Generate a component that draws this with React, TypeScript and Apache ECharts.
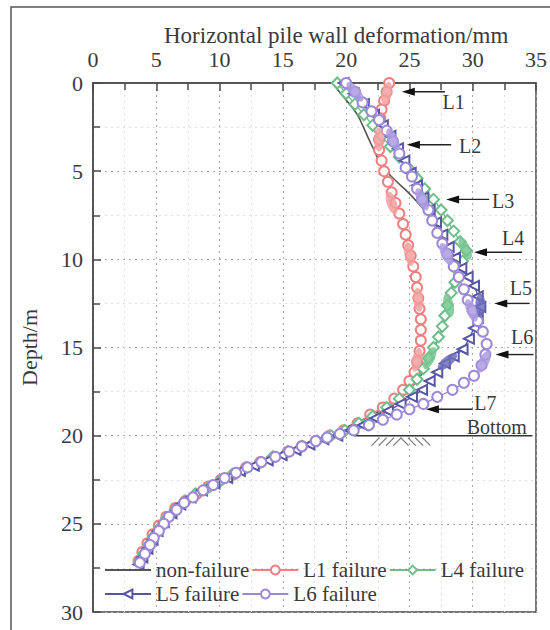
import React, { useEffect, useRef } from "react";
import * as echarts from "echarts";

const FONT = "'Liberation Serif', 'Times New Roman', serif";
const INK = "#3a3a3a";

// [deformation (mm), depth (m)]
const nonFailure: [number, number][] = [
  [18.9, 0], [19.8, 0.8], [20.8, 1.7], [21.3, 2.4], [21.8, 3.2], [22.2, 3.8], [22.6, 4.4],
  [23.2, 5.0], [24.0, 5.6], [24.9, 6.2], [25.8, 6.9], [26.6, 7.6], [27.3, 8.3], [27.9, 9.0],
  [28.4, 9.7], [28.6, 10.4], [28.5, 11.1], [28.3, 11.8], [28.1, 12.5], [27.9, 13.2],
  [27.6, 13.9], [27.2, 14.6], [26.8, 15.3], [26.3, 16.0], [25.8, 16.7], [25.1, 17.3],
  [24.2, 17.9], [23.1, 18.4], [21.9, 18.9], [20.7, 19.3], [19.5, 19.7], [18.4, 20.1],
  [16.9, 20.5], [15.4, 20.9], [13.9, 21.3], [12.4, 21.7], [11.0, 22.1], [9.7, 22.6],
  [8.5, 23.1], [7.4, 23.6], [6.4, 24.1], [5.6, 24.7], [4.9, 25.4], [4.3, 26.1],
  [3.8, 26.8], [3.6, 27.2],
];

const l1Failure: [number, number][] = [
  [23.4, 0], [23.2, 0.5], [23.0, 1.0], [22.8, 1.5], [22.7, 2.0], [22.6, 2.6], [22.6, 3.2],
  [22.6, 3.8], [22.8, 4.4], [23.0, 5.0], [23.3, 5.6], [23.6, 6.2], [23.9, 6.8], [24.2, 7.4],
  [24.5, 8.0], [24.7, 8.6], [24.9, 9.2], [25.1, 9.8], [25.3, 10.4], [25.5, 11.0],
  [25.6, 11.6], [25.7, 12.2], [25.8, 12.8], [25.9, 13.4], [25.9, 14.0], [25.9, 14.6],
  [25.8, 15.2], [25.6, 15.8], [25.4, 16.4], [25.0, 16.9], [24.5, 17.4], [23.8, 17.9],
  [22.9, 18.4], [21.9, 18.8], [20.9, 19.3], [19.8, 19.7], [18.7, 20.0], [17.6, 20.3],
  [16.5, 20.6], [15.4, 20.9], [14.3, 21.2], [13.2, 21.5], [12.1, 21.8], [11.1, 22.2],
  [10.1, 22.5], [9.1, 22.9], [8.2, 23.3], [7.3, 23.7], [6.5, 24.1], [5.8, 24.6],
  [5.2, 25.1], [4.7, 25.6], [4.3, 26.1], [3.9, 26.6], [3.6, 27.1],
];

const l4Failure: [number, number][] = [
  [19.3, 0], [20.0, 0.6], [20.7, 1.2], [21.4, 1.8], [22.1, 2.4], [22.8, 3.0], [23.5, 3.6],
  [24.2, 4.2], [24.9, 4.8], [25.6, 5.4], [26.2, 6.0], [26.9, 6.6], [27.5, 7.2], [28.0, 7.8],
  [28.5, 8.4], [29.0, 9.0], [29.5, 9.5], [29.2, 10.1], [28.9, 10.7], [28.6, 11.3],
  [28.3, 11.9], [28.0, 12.6], [27.8, 13.2], [27.6, 13.8], [27.3, 14.4], [26.9, 15.0],
  [26.5, 15.6], [26.1, 16.2], [25.6, 16.8], [25.0, 17.4], [24.2, 17.9], [23.2, 18.4],
  [22.1, 18.9], [21.0, 19.3], [19.9, 19.7], [18.8, 20.0], [17.7, 20.3], [16.5, 20.6],
  [15.4, 20.9], [14.2, 21.2], [13.1, 21.6], [12.0, 21.9], [11.0, 22.2], [10.0, 22.6],
  [9.0, 23.0], [8.1, 23.3], [7.3, 23.7], [6.5, 24.2], [5.8, 24.7], [5.3, 25.2],
  [4.8, 25.7], [4.4, 26.2], [4.0, 26.7], [3.7, 27.1],
];

const l5Failure: [number, number][] = [
  [19.8, 0], [20.6, 0.6], [21.4, 1.2], [22.2, 1.8], [22.9, 2.4], [23.5, 3.0], [24.1, 3.7],
  [24.6, 4.4], [25.1, 5.1], [25.6, 5.8], [26.1, 6.5], [26.6, 7.2], [27.1, 7.9], [27.6, 8.6],
  [28.1, 9.3], [28.6, 9.9], [29.1, 10.5], [29.6, 11.0], [30.1, 11.5], [30.4, 12.1],
  [30.6, 12.7], [30.4, 13.3], [30.1, 13.9], [29.7, 14.5], [29.2, 15.1], [28.5, 15.5],
  [27.8, 15.9], [27.2, 16.4], [26.6, 16.9], [26.0, 17.4], [25.2, 17.8], [24.3, 18.2],
  [23.3, 18.6], [22.3, 19.0], [21.3, 19.4], [20.3, 19.7], [19.3, 20.0], [18.2, 20.2],
  [17.1, 20.5], [16.0, 20.8], [14.9, 21.1], [13.8, 21.4], [12.7, 21.7], [11.6, 22.0],
  [10.6, 22.4], [9.6, 22.7], [8.6, 23.1], [7.7, 23.5], [6.9, 23.9], [6.2, 24.4],
  [5.6, 24.9], [5.1, 25.4], [4.7, 25.9], [4.3, 26.4], [3.9, 26.9], [3.6, 27.3],
];

const l6Failure: [number, number][] = [
  [20.0, 0], [20.7, 0.5], [21.3, 1.1], [22.0, 1.6], [22.6, 2.1], [23.2, 2.7], [23.7, 3.3],
  [24.2, 4.0], [24.7, 4.8], [25.2, 5.3], [25.6, 6.0], [26.0, 6.6], [26.5, 7.2], [26.8, 7.8],
  [27.2, 8.5], [27.6, 9.1], [28.0, 9.7], [28.5, 10.4], [28.9, 11.0], [29.3, 11.7],
  [29.6, 12.3], [30.0, 12.9], [30.4, 13.5], [30.8, 14.1], [31.1, 14.8], [31.0, 15.4],
  [30.7, 16.0], [30.1, 16.6], [29.3, 17.0], [28.4, 17.4], [27.2, 17.8], [26.1, 18.2],
  [25.0, 18.5], [24.0, 18.8], [22.9, 19.1], [21.8, 19.4], [20.6, 19.7], [19.5, 19.9],
  [18.5, 20.1], [17.6, 20.3], [16.5, 20.6], [15.5, 20.9], [14.4, 21.2], [13.3, 21.5],
  [12.2, 21.8], [11.3, 22.1], [10.4, 22.4], [9.5, 22.8], [8.7, 23.1], [7.9, 23.5],
  [7.2, 23.8], [6.6, 24.2], [6.0, 24.6], [5.6, 25.0], [5.2, 25.4], [4.8, 25.8],
  [4.5, 26.2], [4.1, 26.7], [3.7, 27.2],
];

// Shaded failure zones on each curve: [deformation, depth, tilt in degrees]
const l1Zones: [number, number, number][] = [
  [23.2, 0.6, -12], [22.6, 3.2, 0], [23.6, 6.8, 18], [25.0, 9.7, 10], [25.7, 12.3, 5], [25.6, 15.7, -12],
];
const l4Zones: [number, number, number][] = [
  [29.4, 9.4, 25], [28.1, 12.6, 12], [26.6, 15.6, -25],
];
const l5Zones: [number, number, number][] = [
  [30.6, 12.6, 0], [28.0, 15.8, -50],
];
const l6Zones: [number, number, number][] = [
  [20.7, 0.5, 40], [23.7, 3.2, 25], [26.0, 6.6, 25], [27.9, 9.7, 25], [29.9, 12.9, 22], [30.9, 15.8, -25],
];

// Failure location markers: arrow tip, arrow tail (x), label centre
const failureMarks = [
  { name: "L1", tip: [24.4, 0.5], tail: 27.8, label: [28.5, 1.1] },
  { name: "L2", tip: [24.8, 3.5], tail: 28.3, label: [29.8, 3.6] },
  { name: "L3", tip: [27.9, 6.6], tail: 31.3, label: [32.4, 6.7] },
  { name: "L4", tip: [30.1, 9.6], tail: 33.9, label: [33.2, 8.8] },
  { name: "L5", tip: [31.7, 12.5], tail: 34.5, label: [33.8, 11.6] },
  { name: "L6", tip: [31.8, 15.4], tail: 34.8, label: [33.9, 14.4] },
  { name: "L7", tip: [26.3, 18.5], tail: 30.0, label: [31.0, 18.15] },
];
const bottomDepth = 20;
const bottomLine = [20.8, 34.7];
const bottomLabel = [31.9, 19.5];
const hatchSpan = [22.0, 26.6];

const C_NON = "#555555";
const C_L1 = "#ee8080";
const C_L4 = "#6cbf8a";
const C_L5 = "#5656a4";
const C_L6 = "#9c88d6";

function zoneSeries(name: string, zones: [number, number, number][], color: string) {
  return {
    name,
    type: "scatter",
    symbol: "circle",
    symbolSize: [10, 24],
    itemStyle: { color, opacity: 0.85 },
    z: 4,
    silent: true,
    data: zones.map((z) => ({ value: [z[0], z[1]], symbolRotate: z[2] })),
  };
}

export default function App() {
  const ref = useRef<HTMLDivElement>(null);

  useEffect(() => {
    if (!ref.current) return;
    const chart = echarts.init(ref.current, undefined, { renderer: "svg" });

    const option: any = {
      animation: false,
      backgroundColor: "#ffffff",
      title: {
        text: "Horizontal pile wall deformation/mm",
        left: 159,
        top: 19,
        textStyle: { fontFamily: FONT, fontSize: 23, fontWeight: "normal", color: INK },
      },
      grid: {
        left: 93,
        top: 83,
        width: 444,
        height: 529,
        show: true,
        borderColor: "#4a4a4a",
        borderWidth: 1.5,
        backgroundColor: "transparent",
      },
      legend: {
        left: 104,
        top: 559,
        width: 440,
        padding: 0,
        itemGap: 2,
        itemWidth: 46,
        itemHeight: 11,
        textStyle: { fontFamily: FONT, fontSize: 21, color: INK, lineHeight: 22 },
        data: [
          { name: "non-failure", itemStyle: { opacity: 0 } },
          "L1 failure",
          "L4 failure",
          "L5 failure",
          "L6 failure",
        ],
      },
      xAxis: {
        type: "value",
        position: "top",
        min: 0,
        max: 35,
        interval: 5,
        axisLine: { show: true, lineStyle: { color: "#4a4a4a", width: 1.5 } },
        axisTick: { show: true, inside: true, length: 8, lineStyle: { color: "#4a4a4a", width: 1.5 } },
        minorTick: { show: true, splitNumber: 2, length: 7, lineStyle: { color: "#4a4a4a", width: 1.5 } },
        axisLabel: { fontFamily: FONT, fontSize: 22, color: INK, margin: 13 },
        splitLine: { show: true, lineStyle: { color: "#a8a8a8", type: [2, 4], width: 1 } },
        minorSplitLine: { show: true, lineStyle: { color: "#dedede", type: [2, 4], width: 1 } },
      },
      yAxis: {
        type: "value",
        inverse: true,
        min: 0,
        max: 30,
        interval: 5,
        name: "Depth/m",
        nameLocation: "middle",
        nameGap: 53,
        nameRotate: 90,
        nameTextStyle: { fontFamily: FONT, fontSize: 22, color: INK },
        axisLine: { show: true, lineStyle: { color: "#4a4a4a", width: 1.5 } },
        axisTick: { show: true, inside: true, length: 8, lineStyle: { color: "#4a4a4a", width: 1.5 } },
        minorTick: { show: true, splitNumber: 2, length: 7, lineStyle: { color: "#4a4a4a", width: 1.5 } },
        axisLabel: { fontFamily: FONT, fontSize: 22, color: INK, margin: 10 },
        splitLine: { show: true, lineStyle: { color: "#a8a8a8", type: [2, 4], width: 1 } },
        minorSplitLine: { show: true, lineStyle: { color: "#dedede", type: [2, 4], width: 1 } },
      },
      series: [
        {
          name: "non-failure",
          type: "line",
          data: nonFailure,
          showSymbol: false,
          symbol: "none",
          smooth: true,
          lineStyle: { color: C_NON, width: 1.6 },
          itemStyle: { color: C_NON },
          z: 2,
        },
        {
          name: "L1 failure",
          type: "line",
          data: l1Failure,
          symbol: "emptyCircle",
          symbolSize: 10,
          smooth: true,
          lineStyle: { color: C_L1, width: 1.3 },
          itemStyle: { color: C_L1, borderWidth: 1.4 },
          z: 3,
        },
        {
          name: "L4 failure",
          type: "line",
          data: l4Failure,
          symbol: "emptyDiamond",
          symbolSize: 11,
          smooth: true,
          lineStyle: { color: C_L4, width: 1.3 },
          itemStyle: { color: C_L4, borderWidth: 1.4 },
          z: 3,
        },
        {
          name: "L5 failure",
          type: "line",
          data: l5Failure,
          symbol: "emptyTriangle",
          symbolRotate: 90,
          symbolSize: 10,
          smooth: true,
          lineStyle: { color: C_L5, width: 1.3 },
          itemStyle: { color: C_L5, borderWidth: 1.4 },
          z: 3,
        },
        {
          name: "L6 failure",
          type: "line",
          data: l6Failure,
          symbol: "emptyCircle",
          symbolSize: 10,
          smooth: true,
          lineStyle: { color: C_L6, width: 1.3 },
          itemStyle: { color: C_L6, borderWidth: 1.5 },
          z: 3,
        },
        zoneSeries("L1 zones", l1Zones, "#f2a0a0"),
        zoneSeries("L4 zones", l4Zones, "#79c690"),
        zoneSeries("L5 zones", l5Zones, "#6d6dbb"),
        zoneSeries("L6 zones", l6Zones, "#ab9be0"),
      ],
    };

    chart.setOption(option);

    const toPx = (p: number[]) => chart.convertToPixel({ gridIndex: 0 }, p) as number[];
    const graphics: any[] = [
      {
        type: "rect",
        shape: { x: 11, y: 7, width: 600, height: 700 },
        style: { fill: "none", stroke: "#555", lineWidth: 1.5 },
        silent: true,
      },
    ];

    failureMarks.forEach((m) => {
      const [tx, ty] = toPx(m.tip);
      const [ex] = toPx([m.tail, m.tip[1]]);
      const [lx, ly] = toPx(m.label);
      graphics.push(
        {
          type: "line",
          shape: { x1: tx + 8, y1: ty, x2: ex, y2: ty },
          style: { stroke: "#222", lineWidth: 1.4 },
          z: 10,
        },
        {
          type: "polygon",
          shape: { points: [[tx, ty], [tx + 13, ty - 4], [tx + 13, ty + 4]] },
          style: { fill: "#111" },
          z: 10,
        },
        {
          type: "text",
          x: lx,
          y: ly,
          style: {
            text: m.name,
            fontFamily: FONT,
            fontSize: 20,
            fill: INK,
            align: "center",
            verticalAlign: "middle",
          },
          z: 10,
        }
      );
    });

    const [bx1, by] = toPx([bottomLine[0], bottomDepth]);
    const [bx2] = toPx([bottomLine[1], bottomDepth]);
    graphics.push({
      type: "line",
      shape: { x1: bx1, y1: by, x2: bx2, y2: by },
      style: { stroke: "#333", lineWidth: 1.5 },
      z: 10,
    });
    const [blx, bly] = toPx(bottomLabel);
    graphics.push({
      type: "text",
      x: blx,
      y: bly,
      style: {
        text: "Bottom",
        fontFamily: FONT,
        fontSize: 20,
        fill: INK,
        align: "center",
        verticalAlign: "middle",
      },
      z: 10,
    });
    const [hx1] = toPx([hatchSpan[0], bottomDepth]);
    const [hx2] = toPx([hatchSpan[1], bottomDepth]);
    const hatchCount = 8;
    const step = (hx2 - hx1) / hatchCount;
    for (let i = 0; i < hatchCount; i++) {
      const x0 = hx1 + i * step;
      const forward = i < hatchCount / 2;
      graphics.push({
        type: "line",
        shape: forward
          ? { x1: x0, y1: by + 10, x2: x0 + 8, y2: by + 2 }
          : { x1: x0, y1: by + 2, x2: x0 + 8, y2: by + 10 },
        style: { stroke: "#777", lineWidth: 1.2 },
        z: 10,
      });
    }

    chart.setOption({ graphic: graphics });

    return () => chart.dispose();
  }, []);

  return (
    <div
      ref={ref}
      style={{ position: "fixed", left: 0, top: 0, width: 550, height: 630, background: "#fff" }}
    />
  );
}
